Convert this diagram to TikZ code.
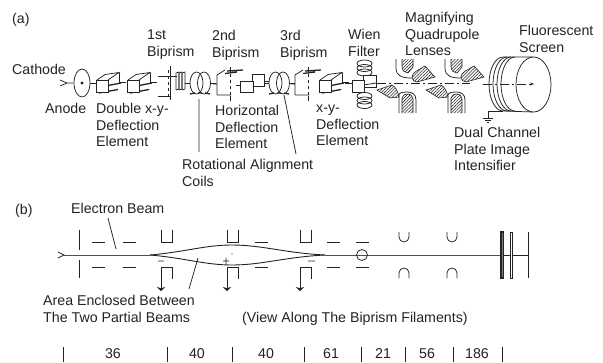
\documentclass[tikz,border=0pt]{standalone}
\usepackage{fontspec}
\setmainfont{Liberation Sans}
\usepackage{xcolor}
\usetikzlibrary{arrows.meta,patterns.meta,positioning}
\definecolor{ink}{RGB}{35,35,35}
\tikzset{
  lbl/.style={anchor=north west,align=left,inner sep=0pt,yshift=-2pt,text=ink,font=\fontsize{14.2}{16.6}\selectfont},
  num/.style={inner sep=0pt,text=ink,font=\fontsize{14.2}{16}\selectfont},
  part/.style={draw=ink,line width=0.75pt},
  thick part/.style={draw=ink,line width=1.3pt},
  beamline/.style={draw=ink,line width=0.7pt,dash pattern=on 9pt off 3pt on 2pt off 3pt},
  hatch/.style={draw=ink,line width=0.6pt,pattern={Lines[angle=45,distance=2.2pt,line width=0.55pt]},pattern color=ink}
}
\begin{document}
\begin{tikzpicture}[x=1pt,y=-1pt]
  \useasboundingbox (0,0) rectangle (603,362);
  \fill[white] (0,0) rectangle (603,362);

  % Part (a): source and anode
  \node[lbl] (parta) at (12,11) {(a)};
  \node[lbl] (cathode) at (12,62) {Cathode};
  \node[lbl] (anode) at (45,101) {Anode};
  \draw[part] (60,80)--(67,83)--(60,86) (67,83)--(73,83);
  \draw[part] (82,83) ellipse [x radius=8,y radius=14];
  \fill[ink] (82,83) circle (1.6);
  \draw[part] (90,83)--(96,83);

  % Deflection elements
  \foreach \x in {96,127,319}{
    \draw[part] (\x+1,80)--(\x+9,74.5)--(\x+23,72.5)--(\x+12,80);
    \draw[part] (\x+23,72.5)--(\x+23,84);
    \draw[thick part] (\x+12,85.5)--(\x+25,83) (\x+3,93)--(\x+22,89.5);
    \draw[part,fill=white] (\x,80) rectangle (\x+12,92);
    \draw[part] (\x+23,82)--(\x+30,82);
  }

  % First biprism
  \draw[part] (158,76)--(177,76) (158,96)--(171,96) (170,66)--(170,100);
  \draw[part,dashed] (168,70)--(168,100);
  \foreach \x in {176,179,182}{
    \draw[part] (\x,90)--(\x,73)--(\x+3,72)--(\x+3,89)--(\x,90);
  }

  % Rotational alignment coils
  \foreach \x in {190,269}{
    \draw[part] (\x-5,83)--(\x,83);
    \draw[part] (\x+6.5,83) ellipse [x radius=6.5,y radius=11];
    \draw[part] (\x+14,83) ellipse [x radius=6.5,y radius=11];
    \draw[thick part] (\x,94)--(\x+5,93) (\x+8,93)--(\x+12,93) (\x+15,93)--(\x+20,94);
    \draw[part] (\x+20,83)--(\x+26,83);
  }

  % Second and third biprism
  \foreach \x in {217,295}{
    \draw[part] (\x-4,84)--(\x,84) (\x,95)--(\x,75)--(\x+8,70) (\x,95)--(\x+14,95);
    \draw[part,dashed] (\x+13,68)--(\x+13,100);
    \draw[thick part] (\x+8,73.5)--(\x+20,72) (\x+10,71)--(\x+26,70);
    \draw[part] (\x+13,67)--(\x+13,72) (\x+13,96)--(\x+13,101);
  }

  % Horizontal deflection element
  \draw[part] (236,85)--(240,85);
  \draw[part,fill=white] (252,74) rectangle (264,86);
  \draw[part,fill=white] (240,81) rectangle (253,92);
  \draw[part] (264,81)--(269,81);

  % Wien filter
  \draw[part] (345,83)--(352,83);
  \foreach \y in {63.5,68,72.5,96,100.5,105}{
    \draw[part] (364.5,\y) ellipse [x radius=7.5,y radius=3.5];
  }
  \draw[part,fill=white] (363,75) rectangle (376,87);
  \draw[part,fill=white] (352,80) rectangle (364,92);
  \draw[part] (364,85)--(376,83);

  % Magnifying quadrupole lenses
  \foreach \d in {0,49}{
    \begin{scope}[xshift=\d pt]
      \draw[part] (396,59)--(396,68) .. controls (396,76) and (402,78) .. (412,78);
      \draw[hatch] (402,59) -- (402,66) .. controls (402,71) and (405,73) .. (408,73) -- (413,67) -- (413,59);
      \draw[hatch] (412,77) .. controls (412,72) and (419,70) .. (425,66) -- (435,77) -- (417,82) .. controls (414,82) and (412,80) .. (412,77);
      \draw[hatch] (377,90) -- (392,85) .. controls (396,87) and (398,92) .. (399,97) -- (390,98) -- cycle;
      \draw[part] (399,113)--(399,95) .. controls (399,93) and (402,92) .. (407,92) .. controls (412,92) and (416,94) .. (416,100) -- (416,113);
      \draw[hatch] (402,113) -- (402,98) .. controls (403,95) and (405,94) .. (407,94) .. controls (411,94) and (413,96) .. (413,99) -- (413,113);
    \end{scope}
  }

  % Dual channel plate and fluorescent screen
  \foreach \d in {489,493,497,501}{
    \draw[part] (\d+14,57) arc [start angle=-90,end angle=-270,x radius=14,y radius=27];
  }
  \draw[part] (503,57)--(533,57) (503,111)--(533,112);
  \draw[part,fill=white] (533.5,84.5) ellipse [x radius=17.5,y radius=27.5];
  \draw[part] (503,111)--(488,111)--(488,118);
  \draw[part] (483,118)--(493,118) (485,120)--(491,120) (487,122)--(489,122);

  % Beam axis in (a)
  \draw[beamline] (377,83)--(470,83);
  \draw[beamline,-{Stealth[length=4pt,width=3pt]}] (483,84)--(534,84);

  % Labels of (a)
  \node[lbl] (biprisma) at (147,28) {1st\\Biprism};
  \node[lbl] (biprismb) at (212,28) {2nd\\Biprism};
  \node[lbl] (biprismc) at (280,28) {3rd\\Biprism};
  \node[lbl] (wien) at (348,27) {Wien\\Filter};
  \node[lbl] (quad) at (405,10) {Magnifying\\Quadrupole\\Lenses};
  \node[lbl] (screen) at (519,23) {Fluorescent\\Screen};
  \node[lbl] (double) at (96,101) {Double x-y-\\Deflection\\Element};
  \node[lbl] (horiz) at (215,103) {Horizontal\\Deflection\\Element};
  \node[lbl] (xydefl) at (316,103) {x-y-\\Deflection\\Element};
  \node[lbl] (coils) at (182,157) {Rotational Alignment\\Coils};
  \node[lbl] (intens) at (454,125) {Dual Channel\\Plate Image\\Intensifier};
  \coordinate (coilsa) at (199,99);
  \coordinate (coilsb) at (284,95);
  \draw[part] (coilsa)--(199,152) (coilsb)--(296,154);

  % Part (b)
  \node[lbl] (partb) at (15,202) {(b)};
  \node[lbl] (elbeam) at (71,201) {Electron Beam};
  \node[lbl] (area) at (43,293) {Area Enclosed Between\\The Two Partial Beams};
  \node[lbl] (view) at (242,310) {(View Along The Biprism Filaments)};
  \coordinate (beamtip) at (116,249);
  \coordinate (areatip) at (198,258);
  \draw[part] (108,218)--(beamtip) (areatip)--(189,289);

  % Beam paths
  \draw[part] (58,252)--(64,255)--(58,258);
  \draw[draw=ink!80,line width=1pt] (62,255)--(150,255);
  \draw[part,line width=0.9pt] (150,255) .. controls (185,252) and (205,245) .. (232,245) .. controls (262,245) and (285,253) .. (325,255);
  \draw[part,line width=0.9pt] (150,255) .. controls (185,258) and (205,265) .. (232,265) .. controls (262,265) and (285,257) .. (325,255);
  \draw[draw=ink!80,line width=1pt] (325,255)--(502,255);
  \draw[part] (502,255)--(528,255);

  % Apertures and plates of (b)
  \draw[part] (79,230)--(79,250) (79,260)--(79,278);
  \foreach \x in {92,123,255,327,356}{
    \draw[part] (\x,242)--(\x+13,242) (\x,267)--(\x+13,267);
  }
  \foreach \x in {161,227,300}{
    \draw[part] (\x,230)--(\x,242)--(\x+11,242)--(\x+11,230);
    \draw[part] (\x+11,279)--(\x+11,267)--(\x,267)--(\x,287);
    \draw[part,-{Stealth[length=4pt,width=8pt]}] (\x,286)--(\x,291);
  }
  \foreach \x in {399,447}{
    \draw[part] (\x,232)--(\x,237) arc [start angle=180,end angle=0,x radius=5,y radius=5]--(\x+10,232);
    \draw[part] (\x,278)--(\x,273) arc [start angle=180,end angle=360,x radius=5,y radius=5]--(\x+10,278);
  }
  \draw[part] (362,255) circle (5.5);
  \fill[ink] (158,260.5) rectangle (164,261.3) (308,260.5) rectangle (315,261.3);
  \fill[ink] (223,260.5) rectangle (229,261.3) (225.6,257.5) rectangle (226.4,264);
  \fill[ink] (232,254) circle (0.7);
  \draw[part,line width=1.2pt,fill=gray] (501,232) rectangle (503.5,278);
  \draw[part,fill=white] (510,232) rectangle (512.5,278);
  \draw[part] (528.5,232)--(528.5,278);

  % Distances
  \foreach \x in {63,167,232,304,361,405,453,502}{
    \draw[part] (\x,347)--(\x,362);
  }
  \node[num] (da) at (113,354) {36};
  \node[num] (db) at (197,354) {40};
  \node[num] (dc) at (266,354) {40};
  \node[num] (dd) at (331,354) {61};
  \node[num] (de) at (383,354) {21};
  \node[num] (df) at (427,354) {56};
  \node[num] (dg) at (477,354) {186};
\end{tikzpicture}
\end{document}
